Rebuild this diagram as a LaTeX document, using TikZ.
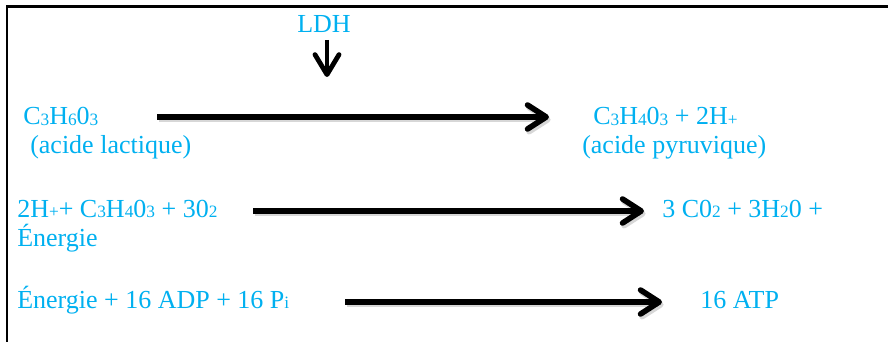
\documentclass[tikz,border=0pt]{standalone}
\usepackage{fontspec}
\setmainfont{Liberation Serif}
\usetikzlibrary{arrows.meta}
\definecolor{txtblue}{RGB}{0,176,240}
\newcommand{\sbs}[1]{{\fontsize{13}{13}\selectfont\raisebox{-0.6pt}{#1}}}
\begin{document}
\begin{tikzpicture}[x=0.75pt,y=-0.75pt,
  txt/.style={text=txtblue, inner sep=0pt, anchor=base west, font=\fontsize{19.5}{23}\selectfont},
  rarrow/.style={line width=4.2pt, -{Straight Barb[length=14pt, width=18pt, line cap=round, line join=round]}},
  shadowarrow/.style={rarrow, draw=black!35, opacity=0.45, transform canvas={shift={(1.2pt,-2pt)}}},
  frameline/.style={line width=1.9pt}]
\useasboundingbox (0,0) rectangle (888,342);
% frame
\coordinate (fa) at (7,342);
\coordinate (fb) at (7,6.5);
\coordinate (fc) at (888,6.5);
\draw[frameline] (fa) -- (fb) -- (fc);
% texts
\node[txt] (ldh) at (297,33) {LDH};
\node[txt] (n1) at (23,125) {C\sbs{3}H\sbs{6}0\sbs{3}};
\node[txt] (n1b) at (30,153) {(acide lactique)};
\node[txt] (p1) at (593,125) {C\sbs{3}H\sbs{4}0\sbs{3} + 2H\sbs{+}};
\node[txt] (p1b) at (582,153) {(acide pyruvique)};
\node[txt] (n2) at (17,217) {2H\sbs{+}+ C\sbs{3}H\sbs{4}0\sbs{3} + 30\sbs{2}};
\node[txt] (n2b) at (17,246) {Énergie};
\node[txt] (p2) at (662,217) {3 C0\sbs{2} + 3H\sbs{2}0 +};
\node[txt] (n3) at (17,308) {Énergie + 16 ADP + 16 P\sbs{i}};
\node[txt] (p3) at (700,308) {16 ATP};
% arrow ends
\coordinate (l1) at (327,40);
\coordinate (l2) at (327,77);
\coordinate (a1s) at (157,117);
\coordinate (a1e) at (549,117);
\coordinate (a2s) at (253,211);
\coordinate (a2e) at (644,211);
\coordinate (a3s) at (345,302);
\coordinate (a3e) at (662,302);
% shadows
\draw[shadowarrow] (a1s) -- (a1e);
\draw[shadowarrow] (a2s) -- (a2e);
\draw[shadowarrow] (a3s) -- (a3e);
% arrows
\draw[rarrow, line width=3.6pt, -{Straight Barb[length=15pt, width=18pt, line cap=round, line join=round]}] (l1) -- (l2);
\draw[rarrow] (a1s) -- (a1e);
\draw[rarrow] (a2s) -- (a2e);
\draw[rarrow] (a3s) -- (a3e);
\end{tikzpicture}
\end{document}
